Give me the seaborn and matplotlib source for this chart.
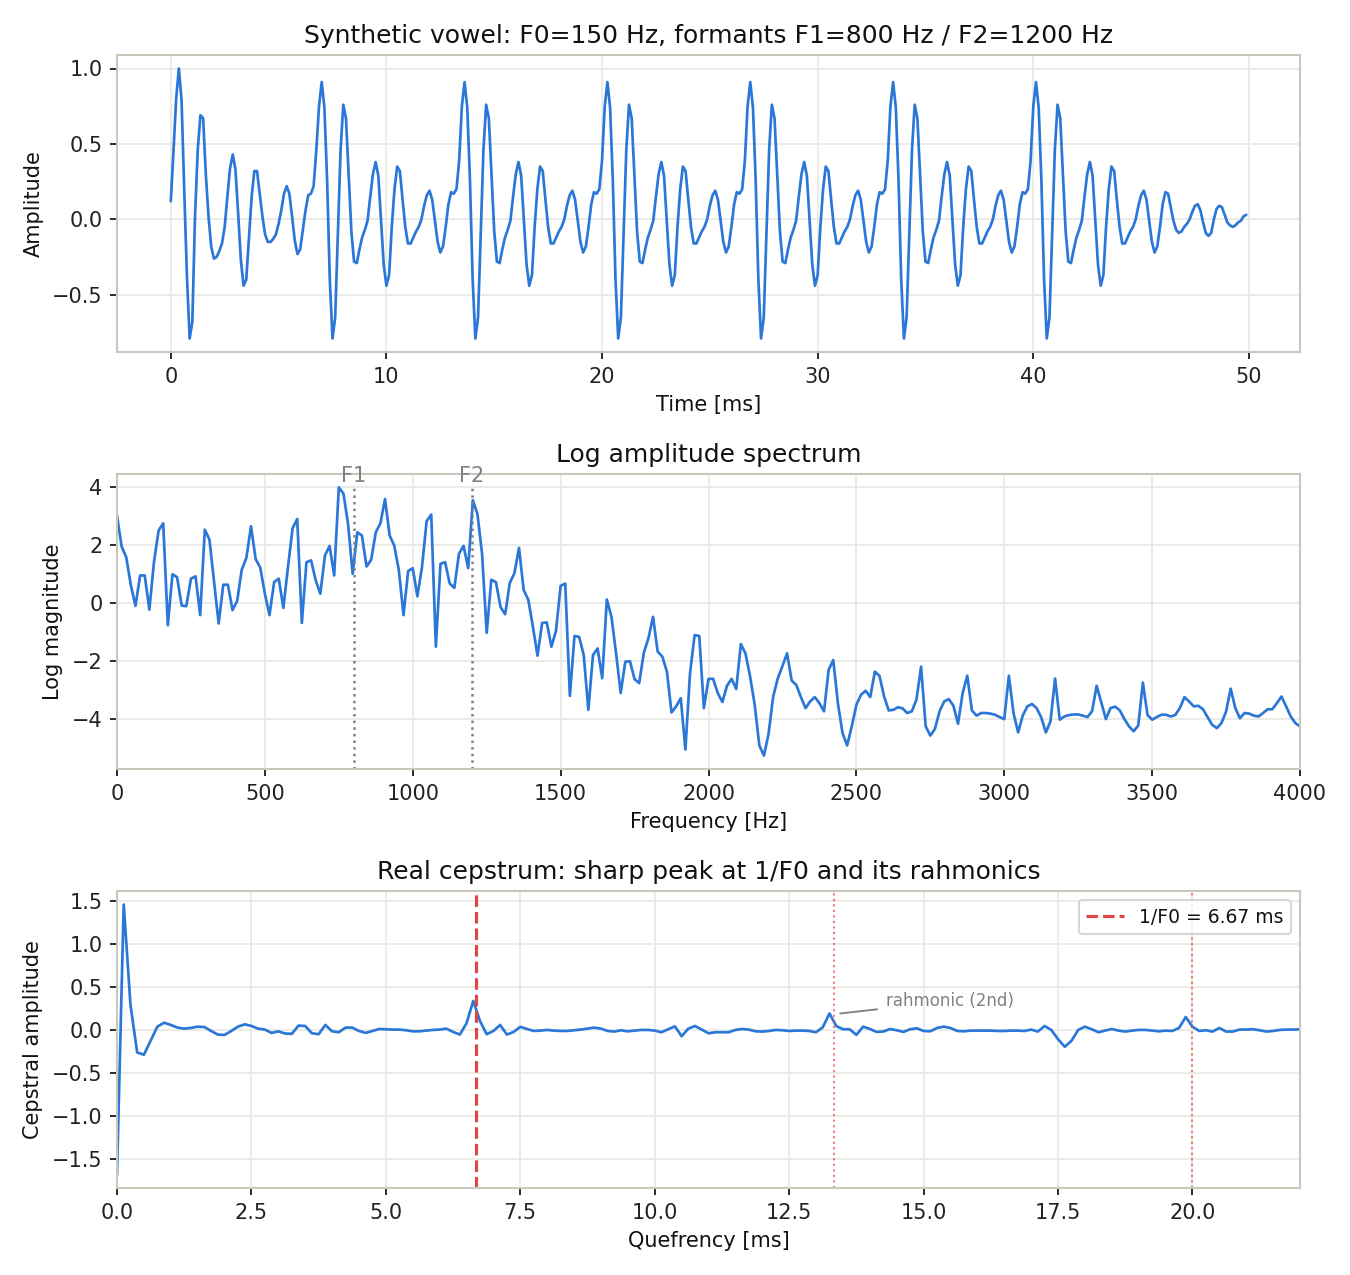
import numpy as np
import matplotlib
matplotlib.use("Agg")
import matplotlib.pyplot as plt
import seaborn as sns

# ---------------- data ----------------
fs_khz = 8.0  # samples per ms

amplitude = [
    # first cycle
    0.12, 0.45, 0.80, 1.00, 0.79, 0.19, -0.38, -0.79, -0.68, 0.02,
    0.46, 0.69, 0.67, 0.30, 0.02, -0.18, -0.26, -0.25, -0.21, -0.16,
    -0.05, 0.15, 0.34, 0.43, 0.33, 0.04, -0.27, -0.44, -0.40, -0.12,
    0.15, 0.32, 0.32, 0.17, 0.02, -0.10, -0.15, -0.15, -0.13, -0.10,
    -0.03, 0.06, 0.17, 0.22, 0.17, 0.02, -0.14, -0.23, -0.20, -0.07,
    0.06, 0.16, 0.17, 0.22, 0.46, 0.75,
    # cycle 2
    0.91, 0.74, 0.26, -0.40, -0.79, -0.65, -0.10, 0.46, 0.76, 0.67, 0.30, -0.08, -0.28, -0.29,
    -0.20, -0.12, -0.07, -0.01, 0.15, 0.30, 0.38, 0.29, -0.01, -0.30, -0.44, -0.37, -0.05,
    0.20, 0.35, 0.32, 0.13, -0.05, -0.16, -0.16, -0.12, -0.08, -0.05, 0.00, 0.09, 0.16,
    0.19, 0.13, -0.01, -0.15, -0.22, -0.18, -0.05, 0.10, 0.18, 0.17, 0.20, 0.39, 0.75,
    # cycle 3
    0.91, 0.74, 0.26, -0.40, -0.79, -0.65, -0.10, 0.46, 0.76, 0.67, 0.30, -0.08, -0.28, -0.29,
    -0.20, -0.12, -0.07, -0.01, 0.15, 0.30, 0.38, 0.29, -0.01, -0.30, -0.44, -0.37, -0.05,
    0.20, 0.35, 0.32, 0.13, -0.05, -0.16, -0.16, -0.12, -0.08, -0.05, 0.00, 0.09, 0.16,
    0.19, 0.13, -0.01, -0.15, -0.22, -0.18, -0.05, 0.10, 0.18, 0.17, 0.20, 0.39, 0.75,
    # cycle 4
    0.91, 0.74, 0.26, -0.40, -0.79, -0.65, -0.10, 0.46, 0.76, 0.67, 0.30, -0.08, -0.28, -0.29,
    -0.20, -0.12, -0.07, -0.01, 0.15, 0.30, 0.38, 0.29, -0.01, -0.30, -0.44, -0.37, -0.05,
    0.20, 0.35, 0.32, 0.13, -0.05, -0.16, -0.16, -0.12, -0.08, -0.05, 0.00, 0.09, 0.16,
    0.19, 0.13, -0.01, -0.15, -0.22, -0.18, -0.05, 0.10, 0.18, 0.17, 0.20, 0.39, 0.75,
    # cycle 5
    0.91, 0.74, 0.26, -0.40, -0.79, -0.65, -0.10, 0.46, 0.76, 0.67, 0.30, -0.08, -0.28, -0.29,
    -0.20, -0.12, -0.07, -0.01, 0.15, 0.30, 0.38, 0.29, -0.01, -0.30, -0.44, -0.37, -0.05,
    0.20, 0.35, 0.32, 0.13, -0.05, -0.16, -0.16, -0.12, -0.08, -0.05, 0.00, 0.09, 0.16,
    0.19, 0.13, -0.01, -0.15, -0.22, -0.18, -0.05, 0.10, 0.18, 0.17, 0.20, 0.39, 0.75,
    # cycle 6
    0.91, 0.74, 0.26, -0.40, -0.79, -0.65, -0.10, 0.46, 0.76, 0.67, 0.30, -0.08, -0.28, -0.29,
    -0.20, -0.12, -0.07, -0.01, 0.15, 0.30, 0.38, 0.29, -0.01, -0.30, -0.44, -0.37, -0.05,
    0.20, 0.35, 0.32, 0.13, -0.05, -0.16, -0.16, -0.12, -0.08, -0.05, 0.00, 0.09, 0.16,
    0.19, 0.13, -0.01, -0.15, -0.22, -0.18, -0.05, 0.10, 0.18, 0.17, 0.20, 0.39, 0.75,
    # last cycle and decaying tail
    0.91, 0.74, 0.26, -0.40, -0.79, -0.65, -0.10, 0.46, 0.76, 0.67, 0.30, -0.08, -0.28, -0.29,
    -0.20, -0.12, -0.07, -0.01, 0.15, 0.30, 0.38, 0.29, -0.01, -0.30, -0.44, -0.37, -0.05,
    0.20, 0.35, 0.32, 0.13, -0.05, -0.16, -0.16, -0.12, -0.08, -0.05, 0.00, 0.09, 0.16,
    0.19, 0.13, -0.01, -0.15, -0.22, -0.18, -0.05, 0.10, 0.18, 0.17,
    0.08, -0.01, -0.07, -0.09, -0.08, -0.05, -0.03, 0.00, 0.05, 0.09,
    0.10, 0.06, -0.02, -0.09, -0.11, -0.09, 0.00, 0.07, 0.09, 0.08,
    0.03, -0.02, -0.04, -0.05, -0.04, -0.02, -0.01, 0.02, 0.03,
]

log_magnitude = [
    3.02, 1.96, 1.59, 0.62, -0.09, 0.96, 0.96, -0.22, 1.42, 2.51,
    2.76, -0.76, 1.00, 0.90, -0.08, -0.10, 0.85, 0.93, -0.41, 2.54,
    2.20, 0.75, -0.70, 0.64, 0.64, -0.24, 0.08, 1.16, 1.57, 2.66,
    1.53, 1.23, 0.33, -0.41, 0.73, 0.85, -0.16, 1.25, 2.59, 2.91,
    -0.68, 1.42, 1.48, 0.79, 0.33, 1.65, 1.98, 0.96, 4.00, 3.79,
    2.74, 1.02, 2.45, 2.34, 1.27, 1.50, 2.45, 2.76, 3.60, 2.34,
    1.99, 1.13, -0.41, 1.11, 1.21, 0.24, 1.25, 2.83, 3.06, -1.50,
    1.36, 1.42, 0.68, 0.53, 1.71, 1.98, 1.21, 3.56, 3.08, 1.71,
    -1.02, 0.81, 0.73, -0.13, -0.38, 0.70, 1.04, 1.91, 0.46, 0.12,
    -0.81, -1.81, -0.68, -0.66, -1.50, -0.95, 0.60, 0.68, -3.20, -1.13,
    -1.16, -1.79, -3.68, -1.79, -1.56, -2.59, 0.13, -0.47, -1.73, -3.10,
    -2.02, -2.00, -2.62, -2.76, -1.71, -1.21, -0.47, -1.67, -1.84, -2.36,
    -3.77, -3.56, -3.28, -5.05, -2.42, -1.10, -1.13, -3.62, -2.61, -2.61,
    -3.10, -3.41, -2.85, -2.61, -2.96, -1.41, -1.73, -2.53, -3.51, -4.91,
    -5.26, -4.50, -3.22, -2.59, -2.17, -1.73, -2.67, -2.82, -3.24, -3.62,
    -3.39, -3.24, -3.45, -3.73, -2.30, -1.96, -3.45, -4.48, -4.91, -4.25,
    -3.51, -3.16, -3.02, -3.24, -2.36, -2.51, -3.22, -3.70, -3.68, -3.59,
    -3.63, -3.79, -3.73, -3.33, -2.19, -4.25, -4.57, -4.34, -3.73, -3.39,
    -3.31, -3.54, -4.16, -3.10, -2.50, -3.70, -3.88, -3.79, -3.79, -3.81,
    -3.85, -3.93, -4.00, -2.50, -3.79, -4.46, -3.88, -3.56, -3.48, -3.62,
    -3.94, -4.46, -4.08, -2.60, -4.02, -3.91, -3.86, -3.84, -3.84, -3.88,
    -3.93, -3.73, -2.85, -3.43, -4.00, -3.62, -3.57, -3.70, -4.00, -4.25,
    -4.42, -4.22, -2.74, -3.86, -4.02, -3.93, -3.85, -3.85, -3.91, -3.86,
    -3.62, -3.24, -3.39, -3.56, -3.54, -3.66, -3.93, -4.20, -4.31, -4.14,
    -3.74, -2.95, -3.62, -3.97, -3.79, -3.81, -3.88, -3.91, -3.79, -3.66,
    -3.66, -3.45, -3.22, -3.56, -3.91, -4.14, -4.25,
]

cepstrum = [
    -1.68, 1.465, 0.30, -0.258, -0.285, -0.123, 0.042, 0.088, 0.062, 0.031,
    0.019, 0.027, 0.042, 0.038, -0.008, -0.050, -0.054, -0.008, 0.042, 0.069,
    0.050, 0.019, 0.008, -0.031, -0.012, -0.038, -0.042, 0.054, 0.050, -0.035,
    -0.046, 0.062, -0.012, -0.023, 0.031, 0.031, -0.008, -0.031, -0.008, 0.015,
    0.012, 0.008, 0.008, 0.000, -0.012, -0.012, -0.004, 0.004, 0.008, 0.019,
    -0.019, -0.050, 0.081, 0.342, 0.108, -0.046, -0.008, 0.062, -0.050, -0.020,
    0.040, 0.015, -0.008, -0.004, 0.004, -0.004, -0.008, -0.008, 0.000, 0.008,
    0.019, 0.031, 0.019, -0.008, -0.015, 0.000, -0.012, -0.004, 0.004, 0.004,
    -0.004, -0.023, 0.012, 0.046, -0.069, 0.019, 0.050, 0.008, -0.035, -0.023,
    -0.023, -0.023, 0.004, 0.015, 0.008, -0.012, -0.015, -0.008, 0.004, 0.000,
    -0.008, -0.004, -0.004, -0.008, -0.023, 0.035, 0.196, 0.050, 0.012, 0.012,
    -0.054, 0.042, 0.015, -0.019, -0.015, 0.015, 0.000, -0.019, 0.012, 0.023,
    -0.008, -0.012, 0.027, 0.042, 0.027, -0.008, -0.012, -0.004, -0.004, -0.004,
    -0.004, -0.008, -0.008, -0.004, -0.004, -0.008, 0.008, -0.015, 0.050, 0.004,
    -0.104, -0.192, -0.123, 0.004, 0.042, 0.012, -0.023, -0.004, 0.015, -0.004,
    -0.015, -0.004, 0.004, 0.004, -0.004, -0.012, -0.004, -0.008, 0.027, 0.154,
    0.042, -0.008, 0.000, -0.015, 0.027, -0.015, -0.015, 0.008, 0.008, 0.012,
    0.000, -0.015, -0.008, 0.004, 0.008, 0.008, 0.012,
]

formant_freqs = [800, 1200]
formant_labels = ["F1", "F2"]
period_ms = 6.67
rahmonics_ms = [13.33, 20.0]

time_ms = np.arange(len(amplitude)) / fs_khz
freq_hz = np.arange(len(log_magnitude)) * 15.625
quefrency_ms = np.arange(len(cepstrum)) / fs_khz

# ---------------- style ----------------
sns.set_theme(style="whitegrid")
plt.rcParams.update({
    "font.family": ["DejaVu Sans"],
    "axes.edgecolor": "#c8c8bc",
    "axes.linewidth": 1.0,
    "grid.color": "#ebebe6",
    "grid.linewidth": 0.9,
    "xtick.bottom": True,
    "ytick.left": True,
    "xtick.color": "#222222",
    "ytick.color": "#222222",
    "xtick.major.size": 3.5,
    "ytick.major.size": 3.5,
    "xtick.major.width": 0.9,
    "ytick.major.width": 0.9,
    "xtick.labelsize": 10,
    "ytick.labelsize": 10,
    "axes.labelsize": 10,
    "axes.titlesize": 12,
    "axes.labelcolor": "#111111",
    "text.color": "#111111",
})

blue = "#2a77d8"
red = "#e04646"

fig = plt.figure(figsize=(9, 8.5), dpi=150)
W, H = 1350, 1275
def box(l, t, r, b):
    return [l / W, 1 - b / H, (r - l) / W, (b - t) / H]

ax1 = fig.add_axes(box(117, 55, 1300, 352))
ax2 = fig.add_axes(box(117, 474, 1300, 769))
ax3 = fig.add_axes(box(117, 891, 1300, 1188))

# --- top: waveform
sns.lineplot(x=time_ms, y=amplitude, ax=ax1, color=blue, linewidth=1.3, estimator=None)
ax1.set_title("Synthetic vowel: F0=150 Hz, formants F1=800 Hz / F2=1200 Hz")
ax1.set_xlabel("Time [ms]")
ax1.set_ylabel("Amplitude")

# --- middle: spectrum
sns.lineplot(x=freq_hz, y=log_magnitude, ax=ax2, color=blue, linewidth=1.3, estimator=None)
ax2.set_xlim(0, 4000)
ax2.margins(y=0.05)
ylo, yhi = ax2.get_ylim()
for f, lab in zip(formant_freqs, formant_labels):
    ax2.vlines(f, ylo, 4.05, colors="#808080", linestyles=":", linewidth=1.2)
    ax2.text(f, 4.05, lab, color="#808080", ha="center", va="bottom", fontsize=10)
ax2.set_ylim(ylo, yhi)
ax2.set_title("Log amplitude spectrum")
ax2.set_xlabel("Frequency [Hz]")
ax2.set_ylabel("Log magnitude")

# --- bottom: cepstrum
sns.lineplot(x=quefrency_ms, y=cepstrum, ax=ax3, color=blue, linewidth=1.3, estimator=None)
ax3.axvline(period_ms, color=red, linestyle="--", linewidth=1.5,
            label=f"1/F0 = {period_ms:.2f} ms")
for r in rahmonics_ms:
    ax3.axvline(r, color=red, linestyle=":", linewidth=1.0, alpha=0.7)
ax3.annotate("rahmonic (2nd)", xy=(13.37, 0.19), xytext=(14.3, 0.34),
             color="#808080", fontsize=8, ha="left", va="center",
             arrowprops=dict(arrowstyle="-", color="#808080", lw=0.9))
ax3.set_xlim(0, 22)
ax3.set_title("Real cepstrum: sharp peak at 1/F0 and its rahmonics")
ax3.set_xlabel("Quefrency [ms]")
ax3.set_ylabel("Cepstral amplitude")
ax3.legend(loc="upper right", fontsize=9, framealpha=0.8)

fig.savefig("out.png", dpi=150)
